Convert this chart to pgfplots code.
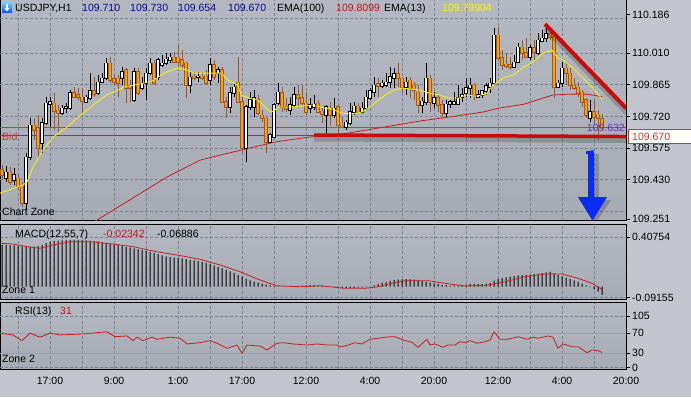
\documentclass[border=0pt]{standalone}
\usepackage{pgfplots}
\pgfplotsset{compat=1.18}
\usepackage{pgfplotstable}
\usepackage{fontspec}
\setmainfont{Liberation Sans}

\definecolor{outerbg}{HTML}{C3C7CD}
\definecolor{plotbgtop}{HTML}{B4B9C1}
\definecolor{plotbgbot}{HTML}{A7ACB4}
\definecolor{gridc}{HTML}{76869A}
\definecolor{bearfill}{HTML}{F2A30F}
\definecolor{bearline}{HTML}{A8561A}
\definecolor{emared}{HTML}{C81E1E}
\definecolor{trendred}{HTML}{C80A0A}
\definecolor{bidred}{HTML}{E03030}
\definecolor{lvlpurple}{HTML}{6A30C0}
\definecolor{hdrblue}{HTML}{0A0A8C}
\definecolor{hdrred}{HTML}{C01818}
\definecolor{arrowblue}{HTML}{0A2AF5}
\definecolor{lvlline}{HTML}{9AA0A9}

% candles: k open high low close
\pgfplotstableread{
k o h l c
1 109.438 109.493 109.420 109.465
3 109.429 109.484 109.406 109.452
6 109.324 109.552 109.292 109.534
7 109.534 109.712 109.520 109.680
10 109.598 109.712 109.552 109.690
11 109.690 109.808 109.680 109.781
12 109.776 109.808 109.671 109.786
15 109.735 109.772 109.726 109.758
16 109.758 109.781 109.735 109.763
17 109.758 109.840 109.749 109.827
21 109.786 109.818 109.781 109.808
22 109.804 109.918 109.795 109.836
24 109.827 109.909 109.818 109.877
25 109.877 109.918 109.872 109.895
26 109.895 109.987 109.886 109.964
30 109.895 109.946 109.863 109.923
33 109.795 109.941 109.786 109.923
35 109.850 109.900 109.840 109.872
36 109.872 109.941 109.795 109.918
37 109.918 109.987 109.909 109.964
39 109.900 109.987 109.886 109.978
40 109.955 110.000 109.946 109.964
41 109.964 110.010 109.955 109.982
42 109.978 110.010 109.964 109.991
47 109.863 109.923 109.827 109.900
49 109.900 109.923 109.877 109.904
52 109.886 109.987 109.863 109.955
54 109.918 109.946 109.872 109.932
57 109.763 109.854 109.735 109.827
58 109.827 109.872 109.808 109.854
61 109.575 109.772 109.511 109.763
62 109.763 109.831 109.749 109.795
63 109.763 109.840 109.717 109.804
67 109.603 109.644 109.598 109.635
68 109.625 109.781 109.621 109.772
69 109.781 109.872 109.772 109.831
72 109.749 109.808 109.726 109.772
73 109.772 109.854 109.763 109.818
77 109.758 109.804 109.735 109.772
78 109.763 109.818 109.749 109.776
81 109.726 109.772 109.644 109.763
83 109.726 109.804 109.712 109.758
86 109.671 109.703 109.657 109.694
87 109.690 109.781 109.680 109.740
88 109.740 109.786 109.726 109.767
90 109.740 109.786 109.735 109.758
91 109.758 109.840 109.749 109.808
92 109.804 109.850 109.795 109.836
93 109.831 109.900 109.808 109.863
95 109.859 109.886 109.850 109.872
96 109.863 109.918 109.854 109.877
97 109.877 109.946 109.850 109.900
98 109.895 109.941 109.850 109.914
101 109.854 109.900 109.818 109.877
105 109.772 109.808 109.735 109.790
106 109.786 109.964 109.772 109.895
108 109.781 109.831 109.758 109.804
111 109.735 109.795 109.717 109.776
112 109.776 109.795 109.758 109.786
113 109.776 109.831 109.772 109.786
114 109.776 109.863 109.772 109.804
115 109.808 109.850 109.786 109.818
116 109.827 109.895 109.808 109.850
117 109.850 109.895 109.804 109.863
119 109.808 109.840 109.804 109.818
120 109.818 109.840 109.804 109.836
121 109.836 109.872 109.818 109.859
122 109.854 109.895 109.827 109.872
123 109.872 110.124 109.863 110.092
128 109.946 110.000 109.941 109.968
129 109.968 110.055 109.964 110.037
132 109.991 110.046 109.978 110.033
134 110.010 110.101 110.000 110.069
135 110.065 110.115 110.060 110.078
136 110.078 110.147 110.060 110.097
139 109.854 109.886 109.850 109.872
140 109.872 109.968 109.854 109.941
147 109.712 109.795 109.694 109.740
}\bull

\pgfplotstableread{
k o h l c
0 109.475 109.497 109.429 109.452
2 109.465 109.488 109.406 109.420
4 109.438 109.452 109.383 109.401
5 109.401 109.420 109.305 109.324
8 109.680 109.712 109.612 109.657
9 109.667 109.726 109.534 109.575
13 109.781 109.827 109.657 109.744
14 109.749 109.772 109.648 109.735
18 109.827 109.854 109.804 109.808
19 109.818 109.850 109.795 109.808
20 109.808 109.850 109.735 109.790
23 109.836 109.900 109.808 109.822
27 109.964 109.991 109.872 109.886
28 109.891 109.909 109.859 109.877
29 109.895 109.909 109.808 109.872
31 109.932 109.941 109.781 109.850
32 109.863 109.886 109.786 109.850
34 109.923 109.941 109.818 109.827
38 109.964 109.978 109.863 109.872
43 109.991 110.014 109.964 109.968
44 109.991 110.046 109.946 109.968
45 109.978 110.023 109.941 109.955
46 109.964 109.968 109.804 109.863
48 109.904 109.923 109.886 109.895
50 109.904 109.923 109.886 109.895
51 109.904 109.932 109.863 109.872
53 109.955 109.978 109.886 109.900
55 109.932 109.946 109.781 109.786
56 109.786 109.808 109.712 109.763
59 109.877 109.991 109.781 109.786
60 109.786 109.808 109.552 109.575
64 109.795 109.818 109.726 109.735
65 109.726 109.749 109.694 109.712
66 109.712 109.717 109.552 109.603
70 109.827 109.854 109.740 109.763
71 109.763 109.804 109.740 109.754
74 109.818 109.863 109.758 109.804
75 109.804 109.863 109.772 109.781
76 109.781 109.831 109.726 109.740
79 109.781 109.795 109.735 109.740
80 109.744 109.763 109.690 109.731
82 109.758 109.786 109.680 109.726
84 109.763 109.772 109.635 109.680
85 109.680 109.717 109.667 109.671
89 109.767 109.781 109.735 109.740
94 109.868 109.895 109.808 109.859
99 109.914 109.964 109.854 109.895
100 109.895 109.900 109.827 109.854
102 109.886 109.900 109.804 109.850
103 109.863 109.877 109.795 109.840
104 109.831 109.863 109.735 109.772
107 109.895 109.909 109.740 109.786
109 109.804 109.818 109.740 109.772
110 109.772 109.795 109.712 109.735
118 109.863 109.872 109.795 109.818
124 110.092 110.129 109.978 109.987
125 109.987 110.023 109.932 109.955
126 109.959 110.010 109.941 109.950
127 109.955 109.991 109.932 109.946
130 110.037 110.069 109.978 110.010
131 110.010 110.078 109.987 109.991
133 110.033 110.069 109.978 110.014
137 110.097 110.115 110.069 110.083
138 110.083 110.092 109.804 109.854
141 109.941 109.964 109.863 109.918
142 109.918 109.941 109.840 109.863
143 109.863 109.895 109.840 109.850
144 109.854 109.877 109.808 109.827
145 109.831 109.840 109.763 109.786
146 109.795 109.804 109.712 109.726
148 109.740 109.795 109.680 109.717
149 109.726 109.749 109.612 109.712
150 109.710 109.730 109.654 109.670
}\bear

\pgfplotsset{
  panel/.style={
    scale only axis, width=626pt,
    xmin=-0.5, xmax=156,
    axis background/.style={shade, top color=plotbgtop, bottom color=plotbgbot},
    axis line style={black, line width=1pt},
    xtick={4,12,...,156}, xticklabels={},
    xmajorgrids,
    grid style={gridc, dash pattern=on 3pt off 2pt, line width=0.7pt},
    xtick pos=bottom, ytick pos=right, yticklabel pos=right,
    tick align=outside, major tick length=4pt,
    x tick style={draw=none},
    y tick style={black, line width=0.8pt},
    every tick label/.append style={font=\fontsize{10.5}{12}\selectfont},
    yticklabel style={anchor=west, inner sep=2pt},
  },
  candle/.style={draw=none, mark=none, forget plot,
    error bars/.cd, y dir=plus, y explicit, error mark=none},
}

\begin{document}
\begin{tikzpicture}
\path[use as bounding box, fill=outerbg] (0pt,0pt) rectangle (691pt,397pt);

%================ MAIN PANEL =================
\begin{axis}[panel, at={(0pt,176pt)}, anchor=south west, height=221pt,
  ymin=109.2418, ymax=110.2523,
  ytick={109.251,109.430,109.575,109.720,109.865,110.010,110.186},
  yticklabels={109.251,109.430,109.575,109.720,109.865,110.010,110.186},
  extra y ticks={109.285,109.430,109.575,109.720,109.865,110.010,110.170},
  extra y tick labels={},
  extra y tick style={ymajorgrids=true, major tick length=0pt},
]
% bid line and price level line
\addplot[color=bidred, line width=1pt, mark=none, forget plot] coordinates {(-0.5,109.670)(156,109.670)};
\addplot[color=lvlpurple, line width=1pt, mark=none, forget plot] coordinates {(-0.5,109.632)(156,109.632)};
% EMA(100)
\addplot[emared, line width=0.8pt] coordinates {
(0,108.981)(12,109.118)(23.75,109.246)(32.75,109.347)(41.25,109.443)(49.5,109.520)
(52.5,109.534)(59.75,109.566)(68.25,109.603)(76.5,109.625)(85,109.639)(92.5,109.662)
(104.5,109.699)(111.75,109.717)(120.25,109.740)(124.25,109.758)(130.5,109.776)
(137.75,109.818)(142,109.822)(146.25,109.822)(150,109.810)};
% bullish candles
\addplot[candle, error bar style={draw=black, line width=0.8pt}]
  table[x=k, y=l, y error expr=\thisrow{h}-\thisrow{l}] {\bull};
\addplot[candle, error bar style={draw=black, line width=3.2pt}]
  table[x=k, y expr=\thisrow{o}-0.0025, y error expr=\thisrow{c}-\thisrow{o}+0.005] {\bull};
\addplot[candle, error bar style={draw=white, line width=1.6pt}]
  table[x=k, y=o, y error expr=\thisrow{c}-\thisrow{o}] {\bull};
% bearish candles
\addplot[candle, error bar style={draw=bearline, line width=0.8pt}]
  table[x=k, y=l, y error expr=\thisrow{h}-\thisrow{l}] {\bear};
\addplot[candle, error bar style={draw=bearline, line width=3.2pt}]
  table[x=k, y expr=\thisrow{c}-0.0025, y error expr=\thisrow{o}-\thisrow{c}+0.005] {\bear};
\addplot[candle, error bar style={draw=bearfill, line width=1.6pt}]
  table[x=k, y=c, y error expr=\thisrow{o}-\thisrow{c}] {\bear};
% EMA(13)
\addplot[yellow, line width=0.8pt] coordinates {
(-0.5,109.369)(3.75,109.397)(5.25,109.406)(6.25,109.420)(7.75,109.488)(10.25,109.566)
(12.75,109.625)(16.25,109.671)(18.75,109.712)(21.25,109.749)(23.75,109.786)(26.25,109.818)
(30.5,109.854)(33,109.863)(35.5,109.872)(38,109.886)(40.5,109.918)(43.75,109.941)
(45.5,109.936)(48,109.918)(50.5,109.918)(54.75,109.918)(56.5,109.886)(59,109.863)
(59.75,109.818)(61.5,109.804)(64,109.795)(65.75,109.763)(67.25,109.740)(68.25,109.749)
(69,109.763)(72.25,109.763)(74.75,109.767)(77.5,109.772)(80.75,109.758)(82.5,109.754)
(85,109.735)(87.5,109.731)(90,109.740)(92.5,109.772)(95,109.808)(97.5,109.836)
(100,109.850)(102.5,109.845)(104.5,109.840)(106.75,109.827)(109.25,109.818)(111.75,109.804)
(114.25,109.804)(116,109.818)(118.5,109.813)(121,109.822)(122.75,109.863)(125.25,109.895)
(127.75,109.909)(130.5,109.946)(132.75,109.968)(135.25,110.010)(137.5,110.023)(138.75,109.991)
(140.25,109.978)(142.75,109.941)(145.25,109.895)(147.75,109.850)(150,109.799)};
% support line with shadow
\draw[black, opacity=0.18, line width=5pt, transform canvas={yshift=-4pt}] (axis cs:78,109.635) -- (axis cs:156,109.628);
\draw[trendred, line width=3.5pt] (axis cs:78,109.635) -- (axis cs:156,109.628);
% descending trendline with shadow
\draw[black, opacity=0.18, line width=5pt, transform canvas={yshift=-4pt}] (axis cs:135.75,110.142) -- (axis cs:156,109.758);
\draw[trendred, line width=4pt] (axis cs:135.75,110.142) -- (axis cs:156,109.758);
% blue arrow with shadow
\begin{scope}[transform canvas={xshift=4pt, yshift=-3pt}]
\draw[black, opacity=0.2, line width=7pt] (axis cs:147.25,109.337) -- (axis cs:147.25,109.560);
\fill[black, opacity=0.2] (axis cs:144,109.351) -- (axis cs:151.25,109.351) -- (axis cs:147.6,109.250) -- cycle;
\end{scope}
\draw[arrowblue, line width=6pt] (axis cs:147.25,109.340) -- (axis cs:147.25,109.556);
\fill[arrowblue] (axis cs:147.9,109.566) -- (axis cs:146.0,109.560) -- (axis cs:146.0,109.548) -- (axis cs:147.9,109.550) -- cycle;
\fill[arrowblue] (axis cs:144,109.351) -- (axis cs:151.25,109.351) -- (axis cs:147.6,109.244) -- cycle;
\end{axis}

%================ MACD PANEL =================
\begin{axis}[panel, at={(0pt,98pt)}, anchor=south west, height=75pt,
  ymin=-0.1023, ymax=0.5175,
  ytick={-0.09155,0.40754}, yticklabels={-0.09155,0.40754},
  ymajorgrids,
]
\addplot[ybar, bar width=1pt, bar shift=0pt, fill=black, draw=none] coordinates {
(0,0.345)(1,0.345)(2,0.343)(3,0.340)(4,0.335)(5,0.330)(6,0.328)(7,0.328)(8,0.330)(9,0.335)
(10,0.345)(11,0.360)(12,0.372)(13,0.378)(14,0.380)(15,0.382)(16,0.384)(17,0.385)(18,0.386)(19,0.386)
(20,0.385)(21,0.383)(22,0.380)(23,0.377)(24,0.373)(25,0.368)(26,0.362)(27,0.355)(28,0.348)(29,0.342)
(30,0.335)(31,0.328)(32,0.322)(33,0.316)(34,0.310)(35,0.302)(36,0.295)(37,0.288)(38,0.278)(39,0.268)
(40,0.258)(41,0.250)(42,0.244)(43,0.240)(44,0.237)(45,0.234)(46,0.228)(47,0.222)(48,0.216)(49,0.210)
(50,0.204)(51,0.196)(52,0.186)(53,0.175)(54,0.162)(55,0.150)(56,0.138)(57,0.125)(58,0.113)(59,0.098)
(60,0.082)(61,0.065)(62,0.052)(63,0.042)(64,0.032)(65,0.024)(66,0.016)(67,0.010)(68,0.005)(69,0.002)
(70,0.000)(71,-0.001)(72,0.002)(73,0.005)(74,0.007)(75,0.008)(76,0.010)(77,0.012)(78,0.013)(79,0.011)
(80,0.008)(81,0.004)(82,0.000)(83,-0.003)(84,-0.008)(85,-0.012)(86,-0.013)(87,-0.012)(88,-0.010)(89,-0.008)
(90,-0.006)(91,-0.004)(92,0.000)(93,0.010)(94,0.021)(95,0.032)(96,0.040)(97,0.047)(98,0.053)(99,0.058)
(100,0.060)(101,0.061)(102,0.060)(103,0.058)(104,0.055)(105,0.048)(106,0.040)(107,0.033)(108,0.025)(109,0.020)
(110,0.015)(111,0.012)(112,0.009)(113,0.008)(114,0.008)(115,0.012)(116,0.017)(117,0.020)(118,0.022)(119,0.022)
(120,0.022)(121,0.025)(122,0.030)(123,0.050)(124,0.062)(125,0.070)(126,0.077)(127,0.082)(128,0.087)(129,0.092)
(130,0.095)(131,0.097)(132,0.100)(133,0.104)(134,0.108)(135,0.112)(136,0.117)(137,0.122)(138,0.110)(139,0.095)
(140,0.085)(141,0.075)(142,0.064)(143,0.052)(144,0.040)(145,0.025)(146,0.010)(147,-0.005)(148,-0.022)(149,-0.042)
(150,-0.069)};
\addplot[emared, line width=0.8pt] coordinates {
(-0.5,0.358)(2.75,0.352)(6.25,0.330)(9.5,0.317)(12.75,0.344)(17,0.371)(22,0.371)(27.75,0.352)
(32.75,0.330)(38.75,0.288)(43.75,0.261)(49.5,0.226)(54.5,0.179)(59.5,0.123)(64.5,0.055)(68.75,0.007)
(74.5,-0.001)(79.5,0.007)(85.75,-0.014)(90.75,-0.014)(94,-0.001)(97.5,0.027)(100.75,0.049)(106.5,0.049)
(110.75,0.027)(115.75,0.005)(121.5,0.013)(125.75,0.040)(130.75,0.082)(135.75,0.104)(140,0.104)(144,0.069)
(147.5,0.027)(150,-0.023)};
\end{axis}

%================ RSI PANEL =================
\begin{axis}[panel, at={(0pt,28pt)}, anchor=south west, height=67pt,
  ymin=-2.64, ymax=133.4,
  ytick={0,30,70,105}, yticklabels={0,30,70,105},
  extra y ticks={0,105}, extra y tick labels={},
  extra y tick style={ymajorgrids=true, major tick length=0pt},
  xticklabels={,17:00,,9:00,,1:00,,17:00,,12:00,,4:00,,20:00,,12:00,,4:00,,20:00},
  xticklabel style={yshift=-1pt},
]
\addplot[color=lvlline, line width=0.6pt, mark=none, forget plot] coordinates {(-0.5,30)(156,30)};
\addplot[color=lvlline, line width=0.6pt, mark=none, forget plot] coordinates {(-0.5,70)(156,70)};
\addplot[emared, line width=0.8pt] coordinates {
(-0.5,70)(2.75,66.5)(5,55)(7,70)(9.5,62)(12,70)(14.5,66.5)(20.25,68.5)(26.25,73)(28.25,63)
(31.25,64.4)(32.75,55)(33.75,62)(35.25,55)(37.5,62)(38.75,57.7)(42,62)(44.5,59.8)(46.25,48.2)
(49.5,50.8)(52,55)(53.75,49.6)(56.25,39.4)(58.75,46)(60,29.3)(61.25,46)(64.5,44)(66.25,36)
(68.75,49.6)(70.25,50.8)(72.75,48.2)(76.25,46)(78.75,48.2)(81.25,46)(83.75,46)(84.5,42.7)
(85.75,44)(88.25,50.8)(90,48.2)(92,57.7)(94,59.8)(97,63)(98.25,63)(100.25,56.3)(102.5,51.6)
(104,41.5)(106.25,57.7)(107,46)(108.25,48.2)(110.25,41.5)(111.5,46)(113.25,46)(114.5,52.8)
(115.75,50.8)(117,55)(118.75,49.6)(120.75,52.8)(122,56.3)(123,73.2)(124.5,57.7)(126.5,57.7)
(129,63)(131.25,57.7)(132.75,61.8)(134,59.8)(136.5,64.4)(137.75,61.8)(139,39.4)(140.25,48.2)
(142.5,42.7)(144,42.7)(146.25,30.5)(147.5,36)(149,34.6)(150,31)};
\end{axis}

%================ TEXT =================
\begin{scope}[font=\fontsize{10.5}{12}\selectfont, every node/.style={anchor=base west, inner sep=0pt}]
% header icon
\fill[top color=blue!35!cyan!60, bottom color=blue!70!cyan] (2pt,384pt) rectangle (12pt,394pt);
\draw[white, line width=1.3pt] (7pt,392.5pt) -- (7pt,388.5pt);
\fill[white] (4.3pt,389pt) -- (9.7pt,389pt) -- (7pt,385.6pt) -- cycle;
\node at (15pt,385pt) {USDJPY,H1};
\node[text=hdrblue] at (82pt,385pt) {109.710};
\node[text=hdrblue] at (130pt,385pt) {109.730};
\node[text=hdrblue] at (178pt,385pt) {109.654};
\node[text=hdrblue] at (228pt,385pt) {109.670};
\node at (277pt,385pt) {EMA(100)};
\node[text=hdrred] at (336pt,385pt) {109.8099};
\node at (384pt,385pt) {EMA(13)};
\node[text=yellow] at (442pt,385pt) {109.79904};
\node at (2pt,181.5pt) {Chart Zone};
\node[text=bidred] at (2pt,256.7pt) {Bid};
\node[text=lvlpurple, anchor=base east] at (625pt,265.5pt) {109.632};
\node at (15pt,160pt) {MACD(12,55,7)};
\node[text=hdrred] at (103pt,160pt) {-0.02342};
\node at (157pt,160pt) {-0.06886};
\node at (2pt,103.2pt) {Zone 1};
\node at (15pt,82.5pt) {RSI(13)};
\node[text=hdrred] at (60pt,82.5pt) {31};
\node at (2pt,34.2pt) {Zone 2};
% bid price box
\draw[bidred, fill=white, line width=0.8pt] (628.5pt,254pt) rectangle (693pt,268pt);
\node[text=bidred] at (632pt,256.8pt) {109.670};
\end{scope}
\end{tikzpicture}
\end{document}
